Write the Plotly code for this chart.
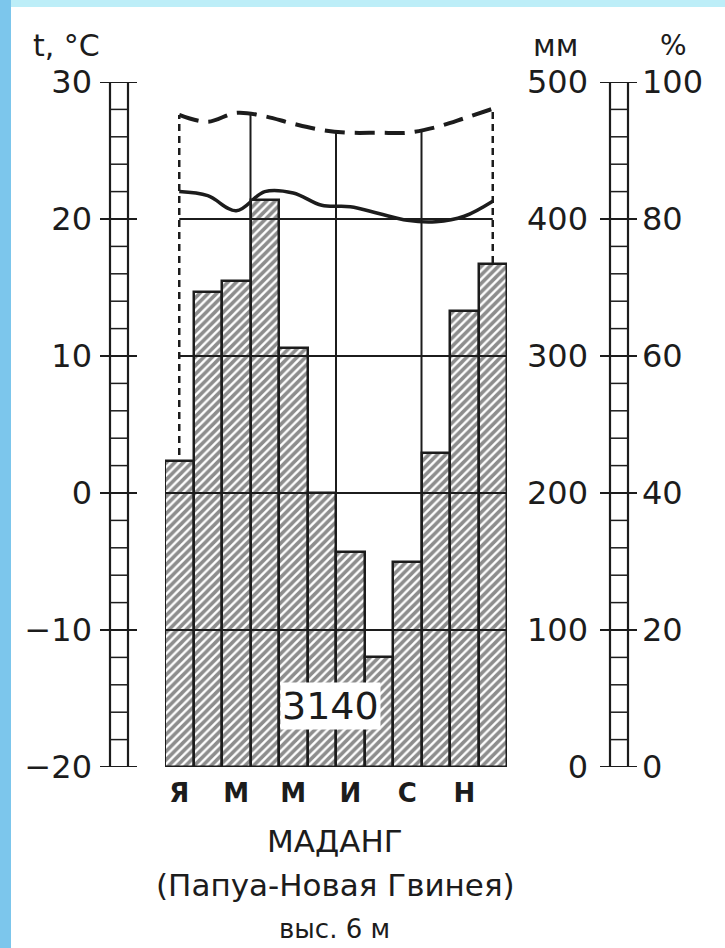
import numpy as np
import plotly.graph_objects as go

# Climate data for Madang
months = list(range(1, 13))
month_ticks = [1, 3, 5, 7, 9, 11]
month_labels = ["Я", "М", "М", "И", "С", "Н"]
precip_mm = [223, 347, 355, 414, 306, 200, 157, 80, 150, 229, 333, 367]
temp_c = [22.0, 21.7, 20.6, 22.0, 21.9, 21.0, 20.9, 20.4, 19.9, 19.8, 20.2, 21.3]
humidity = [95.2, 94.2, 95.5, 95.0, 93.9, 93.0, 92.6, 92.6, 92.6, 93.4, 94.7, 96.1]
season_edges = [3.5, 6.5, 9.5]
annual_total = "3140"

temp_ticks = [-20, -10, 0, 10, 20, 30]
mm_ticks = [0, 100, 200, 300, 400, 500]
pct_ticks = [0, 20, 40, 60, 80, 100]

W, H = 725, 948
INK = "#1c1c1c"
FONT = "DejaVu Sans, Liberation Sans, sans-serif"


def px(x):
    return x / W


def py(y):
    return 1 - y / H


fig = go.Figure()

fig.add_trace(go.Scatter(
    x=months, y=temp_c, mode="lines", yaxis="y",
    line=dict(color=INK, width=3.5, shape="spline", smoothing=1.0),
    hoverinfo="skip"
))

fig.add_trace(go.Bar(
    x=months, y=precip_mm, yaxis="y2", width=1,
    marker=dict(
        color="white",
        line=dict(color=INK, width=2.5),
        pattern=dict(shape="/", fgcolor=INK, bgcolor="white", size=6, solidity=0.6),
    ),
    hoverinfo="skip"
))

fig.add_trace(go.Scatter(
    x=months, y=humidity, mode="lines", yaxis="y3",
    line=dict(color=INK, width=4, dash="20px,10px", shape="spline", smoothing=1.0),
    hoverinfo="skip"
))

shapes = []
# blue photo border
shapes.append(dict(type="rect", xref="paper", yref="paper", x0=0, x1=1, y0=py(7), y1=1,
                   fillcolor="#bdeef8", line_width=0, layer="below"))
shapes.append(dict(type="rect", xref="paper", yref="paper", x0=0, x1=px(11), y0=0, y1=1,
                   fillcolor="#7cc6ec", line_width=0, layer="below"))

# dashed end lines and season dividers, under the bars
for m, h in [(months[0], humidity[0]), (months[-1], humidity[-1])]:
    shapes.append(dict(type="line", xref="x", yref="y3", x0=m, x1=m, y0=0, y1=h,
                       line=dict(color=INK, width=2.5, dash="7px,5px"), layer="below"))
for b in season_edges:
    shapes.append(dict(type="line", xref="x", yref="y3", x0=b, x1=b, y0=0,
                       y1=float(np.interp(b, months, humidity)),
                       line=dict(color=INK, width=2), layer="below"))

# horizontal temperature lines drawn over the bars
for v, a, b in [(20, 1, 12), (10, 1, 12.5), (0, 0.5, 12.5), (-10, 0.5, 12.5)]:
    shapes.append(dict(type="line", xref="x", yref="y", x0=a, x1=b, y0=v, y1=v,
                       line=dict(color=INK, width=2), layer="above"))

# ladder scales
def ladder(yref, lo, hi, step, major, x_l, x_r, t_l, t_r):
    out = []
    for xx in (x_l, x_r):
        out.append(dict(type="line", xref="paper", yref=yref, x0=px(xx), x1=px(xx), y0=lo, y1=hi,
                        line=dict(color=INK, width=2.2)))
    for v in np.arange(lo, hi + step / 2, step):
        out.append(dict(type="line", xref="paper", yref=yref, x0=px(x_l), x1=px(x_r), y0=v, y1=v,
                        line=dict(color=INK, width=1.5)))
    for v in major:
        out.append(dict(type="line", xref="paper", yref=yref, x0=px(t_l), x1=px(t_r), y0=v, y1=v,
                        line=dict(color=INK, width=2)))
    return out


shapes += ladder("y", -20, 30, 2, temp_ticks, 110, 128, 100, 137)
shapes += ladder("y2", 0, 500, 20, mm_ticks, 610, 628, 600, 637)

tick_font = dict(family=FONT, size=32, color=INK)

fig.update_layout(
    width=W, height=H,
    margin=dict(l=0, r=0, t=0, b=0),
    paper_bgcolor="white",
    plot_bgcolor="rgba(0,0,0,0)",
    showlegend=False,
    bargap=0,
    shapes=shapes,
    xaxis=dict(
        domain=[px(165), px(507)], range=[0.5, 12.5],
        tickmode="array", tickvals=month_ticks, ticktext=month_labels,
        tickfont=dict(family=FONT, size=26, color=INK, weight="bold"),
        ticks="", showgrid=False, zeroline=False, showline=False,
        ticklabelstandoff=8, automargin=False,
    ),
    yaxis=dict(
        domain=[py(767), py(82)], range=[-20, 30],
        anchor="free", position=px(100), side="left",
        tickmode="array", tickvals=temp_ticks, tickfont=tick_font,
        ticks="", showgrid=False, zeroline=False, showline=False,
        ticklabelstandoff=8, automargin=False,
    ),
    yaxis2=dict(
        overlaying="y", range=[0, 500],
        anchor="free", position=px(600), side="left",
        tickmode="array", tickvals=mm_ticks, tickfont=tick_font,
        ticks="", showgrid=False, zeroline=False, showline=False,
        ticklabelstandoff=12, automargin=False,
    ),
    yaxis3=dict(
        overlaying="y", range=[0, 100],
        anchor="free", position=px(641), side="right",
        tickmode="array", tickvals=pct_ticks, tickfont=tick_font,
        ticks="", showgrid=False, zeroline=False, showline=False,
        ticklabelstandoff=0, automargin=False,
    ),
)

def note(text, x, y, size, **kw):
    fig.add_annotation(text=text, xref="paper", yref="paper", x=px(x), y=py(y),
                       xanchor="center", yanchor="middle", showarrow=False,
                       font=dict(family=FONT, size=size, color=INK), **kw)


note("t, °C", 66, 46, 30)
note("мм", 555, 46, 30)
note("%", 673, 46, 28)
note(annual_total, 330, 706, 38, bgcolor="white", borderpad=1)
note("МАДАНГ", 335, 841, 31)
note("(Папуа-Новая Гвинея)", 335, 885, 31)
note("выс. 6 м", 334, 929, 26)

fig.write_html("out.html", config={"displayModeBar": False},
               post_script="document.body.style.margin = '0';")
